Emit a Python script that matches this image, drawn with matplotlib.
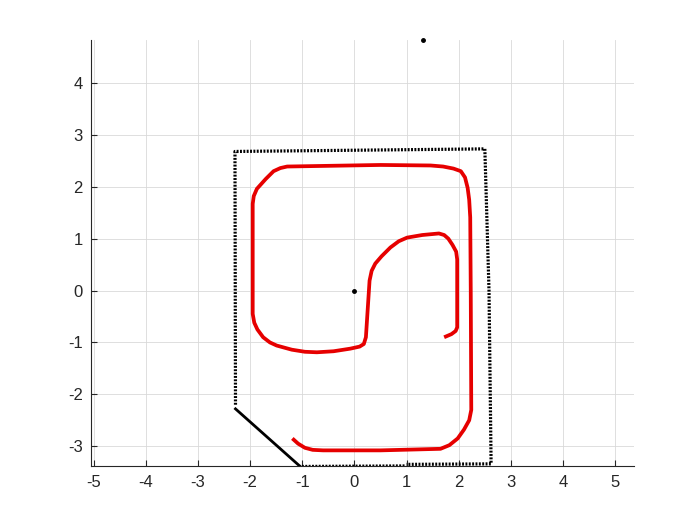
import matplotlib
matplotlib.use("Agg")
import matplotlib.pyplot as plt

plt.rcParams['font.family'] = ['Liberation Sans', 'DejaVu Sans']
plt.rcParams['axes.unicode_minus'] = False

# boundary scan (black dotted outline), split where the style changes
wall_x = [-2.28, -2.29, 2.50, 2.58, 2.62, 1.00]
wall_y = [-2.20, 2.68, 2.73, 0.00, -3.34, -3.35]
wall_low_x = [0.96, -1.04]
wall_low_y = [-3.38, -3.39]
diag_x = [-1.04, -2.28]
diag_y = [-3.39, -2.28]

# robot path (red)
path_x = [-1.19, -1.08, -0.95, -0.80, -0.60, 0.50, 1.65, 1.82, 1.98, 2.10,
          2.20, 2.24, 2.23, 2.22, 2.20, 2.17, 2.12, 2.04, 1.90, 1.70,
          1.46, 0.50, -1.29, -1.42, -1.55, -1.70, -1.87, -1.93, -1.95, -1.95,
          -1.92, -1.86, -1.75, -1.62, -1.49, -1.20, -0.95, -0.72, -0.40, -0.08,
          0.10, 0.18, 0.22, 0.29, 0.33, 0.40, 0.52, 0.69, 0.85, 1.01,
          1.30, 1.62, 1.72, 1.80, 1.88, 1.95, 1.97, 1.97, 1.94, 1.86,
          1.72]
path_y = [-2.85, -2.95, -3.03, -3.07, -3.08, -3.08, -3.05, -2.98, -2.85, -2.68,
          -2.50, -2.30, 0.00, 1.41, 1.75, 1.98, 2.18, 2.30, 2.35, 2.39,
          2.41, 2.42, 2.39, 2.36, 2.30, 2.15, 1.96, 1.82, 1.67, -0.45,
          -0.62, -0.75, -0.90, -1.00, -1.06, -1.14, -1.18, -1.19, -1.17, -1.12,
          -1.08, -1.03, -0.90, 0.19, 0.38, 0.52, 0.66, 0.83, 0.95, 1.02,
          1.07, 1.10, 1.07, 1.00, 0.88, 0.75, 0.60, -0.71, -0.78, -0.84,
          -0.90]

# isolated points
pts_x = [0.0, 1.31]
pts_y = [0.0, 4.83]

fig = plt.figure(figsize=(7, 5.25), dpi=100)
ax = fig.add_axes([0.13, 0.112, 0.775, 0.812])

dot = dict(color='black', lw=2.3, linestyle=(0, (0.6, 0.45)),
           dash_capstyle='butt', zorder=3)
ax.plot(wall_x, wall_y, **dot)
ax.plot(wall_low_x, wall_low_y, **dot)
ax.plot(diag_x, diag_y, color='black', lw=2.0, zorder=3)

ax.plot(path_x, path_y, color='#e60000', lw=2.7, solid_capstyle='butt',
        solid_joinstyle='round', zorder=4)
ax.plot(pts_x, pts_y, 'o', color='black', ms=2.5, zorder=5, clip_on=False)

ax.set_xlim(-5.05, 5.35)
ax.set_ylim(-3.385, 4.83)
ax.set_xticks(range(-5, 6))
ax.set_yticks(range(-3, 5))
ax.grid(True, color='#d9d9d9', lw=0.6)
ax.set_axisbelow(True)
ax.tick_params(direction='in', length=4, labelsize=12, pad=6, colors='#262626')
for side in ['top', 'right']:
    ax.spines[side].set_visible(False)
for side in ['left', 'bottom']:
    ax.spines[side].set_color('#262626')
    ax.spines[side].set_linewidth(0.8)

plt.savefig("out.png", dpi=100)
plt.close()
